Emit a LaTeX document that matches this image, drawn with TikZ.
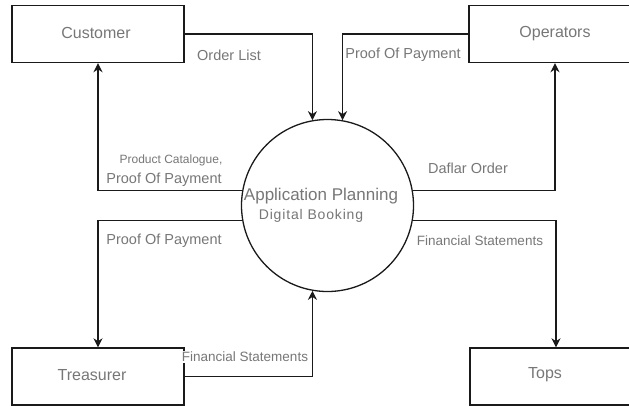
\documentclass[tikz,border=0pt]{standalone}
\usepackage{fontspec}
\setmainfont{Liberation Sans}
\usetikzlibrary{arrows.meta}
\definecolor{txtgray}{HTML}{777777}
\definecolor{linec}{HTML}{1A1A1A}
\begin{document}
\begin{tikzpicture}[x=1pt,y=-1pt,
  box/.style={draw=linec, line width=1.4pt, minimum width=172pt, minimum height=57pt, inner sep=0pt, fill=white},
  proc/.style={circle, draw=linec, line width=1.3pt, minimum size=172pt, inner sep=0pt},
  flow/.style={draw=linec, line width=1.4pt, -{Stealth[length=9pt,width=9pt]}},
  txt/.style={text=txtgray, inner sep=1pt, font=\fontsize{14.5}{16}\selectfont},
  small/.style={text=txtgray, inner sep=1pt, font=\fontsize{12}{14}\selectfont},
  boxtext/.style={text=txtgray, inner sep=0pt, font=\fontsize{16}{18}\selectfont}]
\useasboundingbox (0,0) rectangle (629,405);
\clip (0,0) rectangle (629,405);
\fill[white] (0,0) rectangle (629,405);

% boxes
\node[box] (cust) at (98,34) {};
\node[box] (op) at (555,34) {};
\node[box] (tr) at (98,376.5) {};
\node[box] (tops) at (556,376.5) {};
\node[boxtext] (custT) at (96,33) {Customer};
\node[boxtext] (opT) at (555,34) {Operators};
\node[boxtext] (trT) at (92,375) {Treasurer};
\node[boxtext] (topsT) at (545,375) {Tops};

% process
\node[proc] (c) at (327.5,205.5) {};
\node[text=txtgray, inner sep=0pt, font=\fontsize{17}{19}\selectfont] (app) at (321,196) {Application Planning};
\node[text=txtgray, inner sep=0pt, font=\fontsize{14}{16}\selectfont\addfontfeatures{LetterSpace=6}] (dig) at (311,216) {Digital Booking};

% flows
\draw[flow] (cust.east) -| (c.100);
\draw[flow] (op.west) -| (c.80);
\draw[flow] (c.170) -| (cust.south);
\draw[flow] (c.10) -| (op.south);
\draw[flow] (c.190) -| (tr.north);
\draw[flow] (c.350) -| (tops.north);
\draw[flow] (tr.east) -| (c.260);

% labels
\node[txt] (l1) at (229,55) {Order List};
\node[txt, fill=white] (l2) at (403,55) {Proof Of Payment};
\node[small] (l3) at (171,160) {Product Catalogue,};
\node[txt] (l4) at (164,180) {Proof Of Payment};
\node[txt] (l5) at (468,168) {Daflar Order};
\node[txt] (l6) at (164,241) {Proof Of Payment};
\node[txt, font=\fontsize{13.5}{16}\selectfont] (l7) at (480,241) {Financial Statements};
\node[txt, fill=white, font=\fontsize{13.5}{16}\selectfont] (l8) at (245,357) {Financial Statements};
\end{tikzpicture}
\end{document}
